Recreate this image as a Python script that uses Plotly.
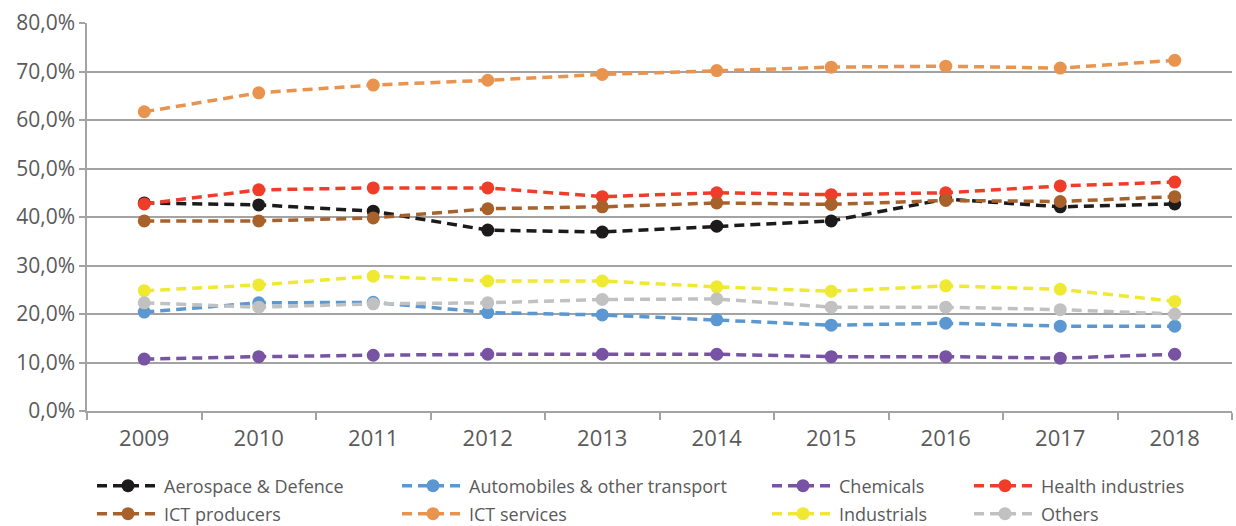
import plotly.graph_objects as go

years = ["2009", "2010", "2011", "2012", "2013", "2014", "2015", "2016", "2017", "2018"]

aerospace = [42.9, 42.5, 41.2, 37.3, 36.9, 38.1, 39.2, 43.7, 42.1, 42.7]
automobiles = [20.4, 22.3, 22.4, 20.3, 19.8, 18.8, 17.7, 18.1, 17.5, 17.5]
chemicals = [10.7, 11.2, 11.5, 11.7, 11.7, 11.7, 11.2, 11.2, 10.9, 11.7]
health = [42.7, 45.6, 46.0, 46.0, 44.2, 45.0, 44.6, 45.0, 46.4, 47.2]
ict_producers = [39.2, 39.2, 39.8, 41.7, 42.1, 42.9, 42.6, 43.4, 43.2, 44.2]
ict_services = [61.7, 65.6, 67.2, 68.2, 69.4, 70.2, 70.9, 71.1, 70.7, 72.3]
industrials = [24.8, 26.0, 27.8, 26.8, 26.8, 25.6, 24.7, 25.8, 25.1, 22.6]
others = [22.3, 21.4, 22.1, 22.3, 23.0, 23.1, 21.4, 21.4, 20.9, 20.0]

series = [
    ("Aerospace & Defence", aerospace, "#1c1a1b"),
    ("Automobiles & other transport", automobiles, "#5b98d2"),
    ("Chemicals", chemicals, "#7853a3"),
    ("Health industries", health, "#f03d2a"),
    ("ICT producers", ict_producers, "#a8612b"),
    ("ICT services", ict_services, "#e8944f"),
    ("Industrials", industrials, "#efe932"),
    ("Others", others, "#c1c1c1"),
]

W, H = 1236, 526
col_x = [92, 397, 767, 969]
row_y = [486, 514]

FONT = "Open Sans"
TXT = "#5a5a5a"

fig = go.Figure()
layout_legends = {}
for i, (name, vals, color) in enumerate(series):
    row, col = divmod(i, 4)
    key = "legend" if i == 0 else f"legend{i+1}"
    fig.add_trace(go.Scatter(
        x=years, y=vals, name=name, mode="lines+markers",
        line=dict(color=color, width=3.5, dash="10px,6px"),
        marker=dict(color=color, size=13),
        legend=key,
    ))
    layout_legends[key] = dict(
        xref="container", yref="container",
        x=col_x[col] / W, y=1 - row_y[row] / H,
        xanchor="left", yanchor="middle",
        bgcolor="rgba(0,0,0,0)", itemwidth=62,
        borderwidth=0,
        font=dict(family=FONT, size=18, color=TXT),
    )

fig.update_layout(
    width=W, height=H,
    margin=dict(l=87, r=4, t=23, b=115, autoexpand=False),
    plot_bgcolor="white", paper_bgcolor="white",
    separators=", ",
    font=dict(family=FONT, size=18, color=TXT),
    showlegend=True,
    **layout_legends,
)
fig.update_xaxes(
    type="category", range=[-0.5, 9.5],
    showline=True, linecolor="#a3a3a3", linewidth=1.5,
    ticks="outside", tickson="boundaries", ticklen=7, tickcolor="#a3a3a3", tickwidth=1.5,
    showgrid=False, tickfont=dict(family=FONT, size=22, color=TXT),
    ticklabelstandoff=7,
    automargin=False,
)
fig.update_yaxes(
    range=[0, 80], dtick=10, tickformat=".1f", ticksuffix="%",
    showline=True, linecolor="#a3a3a3", linewidth=1.5,
    showgrid=True, gridcolor="#a3a3a3", gridwidth=1.5,
    ticks="outside", ticklen=6, tickcolor="#a3a3a3", tickwidth=1.5,
    zeroline=False, tickfont=dict(family=FONT, size=21, color=TXT),
    automargin=False,
)

fig.write_html(
    "out.html",
    config={"displayModeBar": False},
    post_script="document.body.style.margin='0';document.body.style.overflow='hidden';",
)
